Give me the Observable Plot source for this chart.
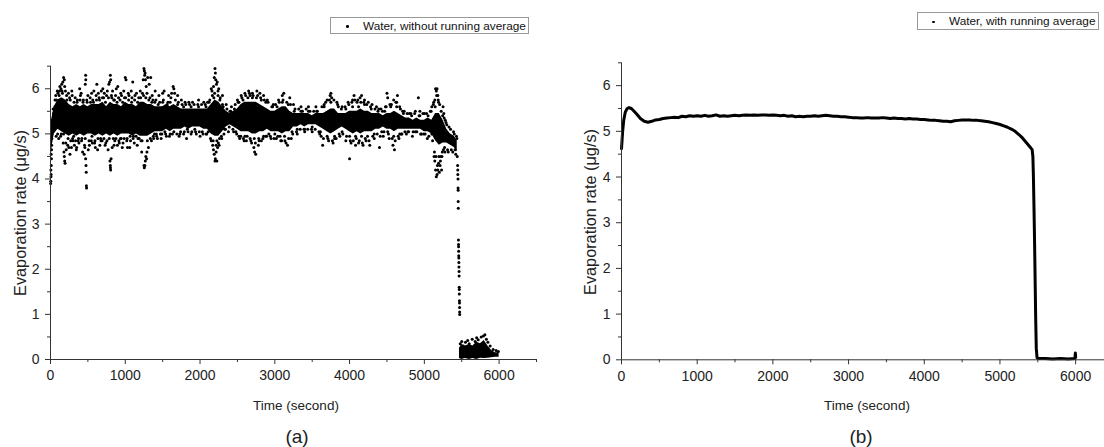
<!DOCTYPE html>
<html><head><meta charset="utf-8">
<script src="https://cdn.jsdelivr.net/npm/d3@7"></script>
<script src="https://cdn.jsdelivr.net/npm/@observablehq/plot@0.6"></script>
<style>
body{margin:0;width:1104px;height:447px;overflow:hidden;position:relative;background:#fff;font-family:"Liberation Sans",Arial,sans-serif;color:#222;}
.abs{position:absolute;}
.abs svg{max-width:none !important;}
.legend{position:absolute;border:1px solid #999;box-sizing:border-box;font-size:11.8px;color:#111;background:#fff;white-space:nowrap;}
.legend .mk{position:absolute;width:2.5px;height:2.5px;background:#000;border-radius:50%;}
.legend .tx{position:absolute;top:50%;transform:translateY(-50%);}
.ylab{position:absolute;font-size:16.3px;white-space:nowrap;transform:translate(-50%,-50%) rotate(-90deg);}
.xlab{position:absolute;font-size:13.5px;white-space:nowrap;transform:translate(-50%,-50%);}
.cap{position:absolute;font-size:19px;white-space:nowrap;transform:translate(-50%,-50%);}
</style></head><body>
<div id="pa" class="abs" style="left:0;top:0;width:550px"></div>
<div id="pb" class="abs" style="left:550px;top:0;width:570px"></div>
<div class="legend" style="left:330px;top:17px;width:199px;height:17px"><span class="mk" style="left:15px;top:7px"></span><span class="tx" style="left:32px">Water, without running average</span></div>
<div class="legend" style="left:917px;top:12px;width:182px;height:18px"><span class="mk" style="left:14px;top:7.5px"></span><span class="tx" style="left:31px">Water, with running average</span></div>
<div class="ylab" style="left:20px;top:213px">Evaporation rate (μg/s)</div>
<div class="ylab" style="left:590px;top:212px">Evaporation rate (μg/s)</div>
<div class="xlab" style="left:296px;top:405px">Time (second)</div>
<div class="xlab" style="left:867px;top:405px">Time (second)</div>
<div class="cap" style="left:297px;top:437px">(a)</div>
<div class="cap" style="left:861px;top:437px">(b)</div>
<script>
// ---- Panel (a): raw data, dense core envelope + scattered points ----
const coreTime = [0,20,50,100,150,200,250,300,350,400,450,500,550,600,650,700,750,800,850,900,950,1000,1050,1100,1150,1200,1250,1300,1350,1400,1450,1500,1550,1600,1650,1700,1750,1800,1850,1900,1950,2000,2050,2100,2150,2200,2250,2300,2350,2400,2450,2500,2550,2600,2650,2700,2750,2800,2850,2900,2950,3000,3050,3100,3150,3200,3250,3300,3350,3400,3450,3500,3550,3600,3650,3700,3750,3800,3850,3900,3950,4000,4050,4100,4150,4200,4250,4300,4350,4400,4450,4500,4550,4600,4650,4700,4750,4800,4850,4900,4950,5000,5050,5100,5150,5200,5250,5300,5350,5400,5440];
const coreLow  = [4.3,4.7,5.0,5.1,5.05,5.0,4.95,5.0,4.95,5.0,4.95,5.0,5.0,4.95,5.0,4.95,5.0,4.95,5.0,4.95,5.0,5.0,5.0,4.95,5.0,4.95,4.95,4.95,5.0,5.05,5.05,5.05,5.1,5.05,5.1,5.1,5.1,5.15,5.1,5.15,5.15,5.15,5.1,5.1,5.0,4.95,4.95,5.05,5.15,5.2,5.15,5.1,5.05,5.05,5.05,5.0,5.0,5.05,5.05,5.1,5.05,5.05,5.05,5.0,5.05,5.05,5.15,5.15,5.2,5.15,5.2,5.2,5.2,5.15,5.1,5.05,5.0,5.05,5.1,5.15,5.1,5.05,5.0,5.05,5.0,5.05,5.05,5.05,5.1,5.1,5.15,5.1,5.1,5.05,5.1,5.1,5.1,5.1,5.1,5.1,5.1,5.05,5.05,5.0,4.85,4.75,4.8,4.8,4.75,4.7,4.6];
const coreHigh = [5.2,5.35,5.6,5.75,5.8,5.75,5.65,5.6,5.65,5.6,5.65,5.6,5.65,5.65,5.65,5.7,5.6,5.7,5.65,5.65,5.6,5.7,5.65,5.65,5.6,5.7,5.7,5.65,5.65,5.6,5.6,5.6,5.65,5.6,5.65,5.6,5.55,5.55,5.55,5.55,5.55,5.55,5.55,5.55,5.65,5.75,5.7,5.6,5.5,5.45,5.5,5.55,5.65,5.7,5.7,5.7,5.7,5.65,5.6,5.55,5.5,5.5,5.55,5.6,5.6,5.5,5.45,5.45,5.45,5.45,5.45,5.4,5.45,5.45,5.45,5.5,5.55,5.55,5.45,5.45,5.45,5.5,5.5,5.5,5.55,5.5,5.5,5.45,5.45,5.45,5.4,5.45,5.45,5.5,5.45,5.4,5.35,5.35,5.3,5.35,5.3,5.3,5.35,5.3,5.45,5.45,5.3,5.1,5.0,4.95,4.85];
const tailTime = [5470,5500,5550,5600,5650,5700,5750,5800,5850,5900,5950,6000];
const tailLow  = [0.02,0.0,0.02,0.0,0.02,0.0,0.03,0.02,0.03,0.04,0.05,0.05];
const tailHigh = [0.25,0.33,0.3,0.33,0.3,0.38,0.35,0.42,0.3,0.2,0.15,0.15];
const rawTime = [2,4,6,8,5,10,12,9,14,16,18,20,22,25,30,40,60,80,100,120,140,150,165,175,185,190,200,170,180,185,190,195,210,230,260,280,300,240,290,
320,350,370,390,410,430,450,460,470,475,478,480,482,470,472,465,500,520,550,560,580,600,620,640,660,680,700,690,
720,740,760,780,790,800,805,795,800,802,804,810,830,850,870,900,920,940,960,980,1000,1010,1020,1040,1060,1080,1100,
1120,1150,1170,1200,1220,1240,1250,1255,1260,1265,1270,1280,1250,1255,1262,1268,1275,1285,1290,1300,1320,1340,1360,1380,1400,1420,1450,1480,1500,
1520,1550,1580,1600,1620,1640,1650,1660,1700,1720,1750,1780,1800,1820,1850,1880,1900,1950,1980,2000,2050,2080,2100,
2150,2160,2180,2190,2200,2205,2210,2220,2230,2240,2250,2170,2180,2190,2200,2205,2215,2225,2235,2245,2260,2300,2320,2350,2380,
2420,2450,2500,2520,2550,2580,2600,2620,2650,2670,2690,2700,2720,2730,2745,2760,2780,2800,2820,2850,2880,2900,2950,2980,
3020,3050,3080,3100,3120,3150,3170,3200,3220,3250,3300,3350,3400,3450,3500,3550,3600,
3620,3640,3660,3700,3720,3740,3750,3760,3780,3800,3830,3870,3900,3950,3980,4000,4020,4040,4060,4080,
4100,4120,4140,4160,4180,4200,4220,4250,4270,4300,4330,4360,4400,4420,4450,4480,4500,4510,4530,4560,4580,4600,4620,4640,4660,4680,4700,
4730,4760,4800,4840,4880,4920,4940,4960,5000,5040,5080,5100,
5120,5140,5150,5160,5170,5180,5190,5130,5140,5150,5160,5170,5180,5190,5200,5210,5220,5230,5240,5250,5260,5270,5280,5300,5320,5350,5380,5400,5420,5430,5440,
5445,5447,5448,5450,5451,5452,5453,5454,5456,5457,5458,5459,5460,5461,5462,5463,5464,5465,5466,5467,5468,5469,5470,5471,5472,5473,
5480,5500,5520,5550,5580,5600,5640,5680,5700,5720,5760,5790,5810,5830,5850,5880,5920,5960,5990];
const rawRate = [3.9,3.95,4.05,4.1,4.2,4.3,4.45,4.55,4.65,4.75,4.9,5.0,5.1,5.2,5.3,5.45,5.6,5.75,5.9,5.95,6.0,6.1,6.15,6.25,6.2,6.05,5.95,4.8,4.6,4.5,4.4,4.35,4.65,4.75,4.55,4.7,4.85,5.9,5.85,
4.75,4.7,4.85,6.0,5.9,4.6,4.55,4.7,4.45,4.3,4.15,3.85,3.8,6.3,6.2,6.1,5.85,4.75,5.9,4.8,5.95,4.7,6.1,5.9,4.75,5.95,6.0,4.85,
5.9,4.8,5.95,6.1,6.15,6.3,6.2,4.4,4.3,4.25,4.2,4.45,5.95,4.75,5.85,6.05,4.8,5.9,4.7,5.95,6.25,6.2,4.85,5.9,4.7,5.95,6.15,
4.8,5.9,4.9,5.95,4.6,6.2,6.45,6.4,6.3,6.35,6.2,6.05,4.3,4.25,4.3,4.4,4.5,4.45,4.6,6.25,6.1,6.25,5.85,4.9,5.95,4.95,5.85,4.9,5.9,
5.95,4.95,5.85,5.0,5.9,6.05,6.0,5.9,5.85,4.95,5.75,5.0,5.7,4.9,5.7,5.0,5.7,5.0,5.75,4.95,5.7,5.0,5.7,
6.0,5.95,6.05,6.25,6.45,6.35,6.2,6.1,6.15,5.95,6.0,4.75,4.65,4.55,4.4,4.45,4.6,4.4,4.7,4.8,4.9,5.85,5.0,5.65,5.05,
5.6,5.05,5.75,4.95,5.85,4.9,5.9,4.85,5.95,5.85,4.8,5.9,4.7,4.6,4.55,5.95,4.75,5.9,4.85,5.85,4.95,5.75,4.9,5.65,
4.9,5.75,4.85,5.85,5.9,4.8,4.75,5.8,4.9,5.65,5.0,5.6,5.05,5.6,5.05,5.6,5.0,
4.95,4.75,5.65,5.75,4.85,5.85,5.9,5.8,4.8,4.9,5.7,4.95,5.6,4.85,5.7,4.45,4.8,5.75,5.85,4.75,
5.7,4.8,5.8,5.85,4.75,5.75,4.85,5.7,4.75,5.65,4.9,5.6,4.7,5.55,4.95,5.6,5.9,5.8,4.9,5.65,4.75,4.65,5.7,5.85,4.9,5.55,5.0,
5.5,5.0,5.45,4.95,5.5,5.8,5.5,5.0,5.45,4.9,5.5,5.6,
5.65,5.75,6.0,5.95,6.0,5.85,5.7,4.5,4.4,4.2,4.05,4.1,4.2,4.35,4.15,4.3,4.5,4.2,4.6,5.6,5.45,4.7,5.3,5.2,4.6,5.1,4.6,5.0,4.55,4.95,4.5,
4.3,4.2,4.1,4.0,3.8,3.75,3.5,3.35,2.65,2.55,2.5,2.4,2.3,2.25,2.15,2.05,1.95,1.85,1.6,1.55,1.45,1.3,1.25,1.15,1.05,1.0,
0.35,0.4,0.3,0.38,0.42,0.35,0.45,0.4,0.48,0.44,0.5,0.52,0.55,0.45,0.38,0.3,0.22,0.2,0.18];
// fringe points bordering the dense band
const fringeTime = [60,75,90,110,125,145,160,205,220,245,255,270,285,310,330,345,360,380,400,420,440,455,490,505,530,545,565,590,610,630,650,670,710,730,750,770,815,825,845,860,880,895,910,935,950,970,990,1030,1050,1070,1090,1110,1130,1160,1180,1210,1230,1290,1310,1330,1350,1370,1390,1410,1430,1460,1490,1510,1540,1570,1590,1610,1630,1670,1690,1710,1740,1760,1790,1810,1840,1860,1890,1920,1940,1970,1990,2020,2040,2070,2090,2120,2140,2165,2175,2195,2215,2240,2255,2270,2285,2310,2330,2360,2390,2410,2440,2470,2490,2510,2530,2560,2590,2610,2630,2660,2680,2710,2740,2770,2790,2810,2840,2860,2890,2910,2940,2960,2990,3010,3040,3060,3090,3110,3135,3160,3185,3210,3240,3270,3290,3320,3340,3370,3390,3420,3440,3470,3490,3520,3540,3570,3590,3630,3650,3680,3710,3730,3770,3790,3820,3840,3860,3890,3910,3940,3960,3990,4010,4030,4050,4070,4090,4110,4130,4150,4170,4190,4210,4230,4260,4280,4310,4340,4370,4390,4410,4440,4460,4490,4520,4540,4570,4590,4610,4630,4650,4670,4690,4710,4740,4770,4790,4820,4850,4870,4900,4930,4950,4980,5010,5030,5060,5090,5110,5125,5135,5145,5155,5165,5175,5185,5195,5205,5215,5225,5235,5245,5255,5265,5275,5290,5310,5330,5360,5390,5410,5435];
const fringeRate = [5.75,4.95,5.95,4.9,6.05,5.0,5.9,4.8,5.75,4.7,5.8,4.85,5.95,4.95,5.8,4.65,5.75,4.8,5.85,4.9,5.75,4.75,5.7,4.65,5.8,4.85,5.75,4.8,5.85,4.65,5.8,4.9,5.8,4.75,5.85,4.65,5.85,4.7,5.75,4.85,6.0,4.75,5.8,4.9,5.85,4.8,5.8,4.7,5.85,4.85,5.8,4.95,5.85,4.75,5.8,4.85,5.9,5.9,4.7,5.8,4.85,5.75,5.0,5.75,4.9,5.7,5.0,5.75,5.0,5.7,4.95,5.8,5.0,5.75,5.0,5.7,5.05,5.65,5.05,5.65,5.05,5.65,5.05,5.65,5.05,5.65,5.05,5.65,5.0,5.65,5.0,5.7,4.9,5.85,4.85,5.9,4.75,5.85,4.75,5.8,4.95,5.6,5.1,5.55,5.15,5.5,5.1,5.65,5.0,5.7,4.9,5.8,4.85,5.85,4.95,5.9,4.85,5.85,4.8,5.85,4.85,5.8,4.9,5.75,4.95,5.7,4.95,5.6,4.9,5.65,4.95,5.7,4.85,5.75,4.85,5.7,4.9,5.65,5.0,5.55,5.05,5.55,5.1,5.5,5.1,5.55,5.1,5.5,5.1,5.5,5.1,5.5,5.05,5.6,4.9,5.7,4.9,5.75,4.85,5.75,4.9,5.65,5.0,5.55,5.0,5.6,4.95,5.65,4.85,5.7,4.85,5.75,4.9,5.75,4.85,5.7,4.8,5.7,4.9,5.65,4.85,5.6,4.95,5.55,5.0,5.55,4.95,5.5,5.05,5.6,5.0,5.65,4.9,5.75,4.85,5.7,4.95,5.6,5.0,5.5,5.05,5.45,5.05,5.45,5.05,5.45,5.05,5.4,5.0,5.45,5.0,5.45,4.95,5.5,4.85,5.7,4.6,5.6,4.5,5.85,4.3,5.75,4.5,5.65,4.4,5.5,4.5,5.4,4.65,5.35,4.6,5.25,4.65,5.15,4.65,5.05,4.65,4.9];
// points just outside the dense band edges
const edgeTime = [35,70,95,115,135,155,175,215,235,265,295,315,335,355,375,395,415,435,465,485,515,535,555,575,595,615,635,655,675,695,715,735,755,775,785,820,840,855,875,890,915,930,945,965,985,1005,1025,1045,1065,1085,1105,1125,1145,1165,1185,1205,1225,1245,1275,1295,1315,1335,1355,1375,1395,1415,1440,1470,1500,1530,1560,1600,1650,1700,1730,1780,1830,1880,1930,1980,2030,2080,2110,2130,2150,2185,2225,2265,2290,2300,2340,2400,2460,2480,2520,2545,2575,2600,2640,2670,2700,2725,2755,2785,2820,2850,2880,2920,2970,3000,3030,3070,3100,3130,3180,3230,3260,3300,3350,3400,3450,3500,3560,3610,3660,3700,3750,3800,3850,3900,3950,4000,4040,4080,4120,4160,4200,4240,4290,4330,4380,4430,4470,4510,4550,4590,4630,4670,4720,4780,4830,4880,4940,4990,5050,5100];
const edgeRate = [5.55,5.85,5.0,5.85,4.95,5.95,5.0,5.85,4.9,5.75,4.9,5.7,4.85,5.7,4.9,5.75,4.85,5.7,4.9,5.75,4.85,5.7,4.95,5.7,4.85,5.75,4.9,5.75,4.85,5.8,4.9,5.7,4.85,5.8,4.9,5.8,4.9,5.75,4.9,5.7,4.85,5.75,4.9,5.7,4.9,5.8,4.9,5.75,4.95,5.7,4.9,5.75,4.95,5.7,4.9,5.8,4.85,5.85,5.8,4.85,5.75,4.9,5.7,4.95,5.7,5.0,5.65,5.0,5.7,5.05,5.65,5.7,5.05,5.65,5.0,5.6,5.1,5.6,5.1,5.6,5.05,5.6,5.05,5.75,4.85,5.8,4.85,5.75,4.9,5.65,5.1,5.5,5.55,5.05,5.7,4.95,5.75,4.95,5.8,4.9,5.8,4.9,5.8,4.9,5.75,4.95,5.7,5.0,5.6,5.0,5.6,4.95,5.7,4.95,5.65,5.05,5.5,5.1,5.5,5.1,5.5,5.15,5.5,5.05,5.6,4.95,5.7,4.95,5.6,5.05,5.55,4.95,5.6,4.95,5.6,4.95,5.65,4.95,5.55,5.0,5.5,5.05,5.5,5.05,5.6,4.95,5.6,5.0,5.45,5.05,5.4,5.05,5.4,5.0,5.4,5.0];

// ---- Panel (b): running average ----
const avgTime = [0,15,30,50,75,100,130,160,200,250,300,350,400,450,500,550,600,650,700,750,800,850,900,950,1000,1050,1100,1150,1200,1250,1300,1350,1400,1450,1500,1550,1600,1650,1700,1750,1800,1850,1900,1950,2000,2050,2100,2150,2200,2250,2300,2350,2400,2450,2500,2550,2600,2650,2700,2750,2800,2850,2900,2950,3000,3050,3100,3150,3200,3250,3300,3350,3400,3450,3500,3550,3600,3650,3700,3750,3800,3850,3900,3950,4000,4050,4100,4150,4200,4250,4300,4350,4400,4450,4500,4550,4600,4650,4700,4750,4800,4850,4900,4950,5000,5050,5100,5150,5200,5250,5300,5350,5400,5425,5435,5442,5450,5458,5465,5472,5480,5490,5500,5600,5700,5800,5900,5990,5996,6000];
const avgRate = [4.62,5.0,5.25,5.42,5.5,5.52,5.5,5.45,5.38,5.28,5.22,5.2,5.22,5.25,5.26,5.28,5.29,5.3,5.31,5.3,5.33,5.32,5.34,5.33,5.34,5.33,5.35,5.33,5.34,5.36,5.33,5.34,5.33,5.34,5.35,5.34,5.35,5.36,5.35,5.36,5.35,5.36,5.36,5.35,5.36,5.35,5.34,5.35,5.33,5.34,5.32,5.33,5.32,5.33,5.33,5.34,5.33,5.34,5.35,5.34,5.33,5.33,5.32,5.32,5.31,5.3,5.3,5.29,5.29,5.3,5.29,5.29,5.29,5.3,5.29,5.28,5.29,5.28,5.28,5.27,5.28,5.27,5.27,5.26,5.26,5.25,5.24,5.24,5.23,5.22,5.22,5.21,5.23,5.24,5.25,5.25,5.25,5.24,5.24,5.23,5.22,5.21,5.19,5.17,5.15,5.12,5.09,5.05,5.0,4.93,4.85,4.75,4.65,4.6,4.45,4.0,3.3,2.5,1.7,0.9,0.25,0.05,0.03,0.03,0.02,0.03,0.02,0.03,0.15,0.05];

const xMajor = [0,1000,2000,3000,4000,5000,6000];
const xMinor = [500,1500,2500,3500,4500,5500,6500];
const yMajor = [0,1,2,3,4,5,6];
const yMinor = [0.5,1.5,2.5,3.5,4.5,5.5,6.5];

const coreRows = coreTime.map((t,i)=>({t, lo:coreLow[i], hi:coreHigh[i]}));
const tailRows = tailTime.map((t,i)=>({t, lo:tailLow[i], hi:tailHigh[i]}));
const rawRows = rawTime.map((t,i)=>({t, v:rawRate[i]}))
  .concat(fringeTime.map((t,i)=>({t, v:fringeRate[i]})))
  .concat(edgeTime.map((t,i)=>({t, v:edgeRate[i]})));
const avgRows = avgTime.map((t,i)=>({t, v:avgRate[i]}));

function axes(){
  const ink = "#333";
  return [
    Plot.axisX({ticks:xMajor, tickSize:5, tickPadding:6, tickFormat:d3.format("d"), label:null, stroke:ink, color:"#222"}),
    Plot.axisX({ticks:xMinor, tickSize:3, tickFormat:()=>"", label:null, stroke:ink}),
    Plot.axisY({ticks:yMajor, tickSize:5, tickPadding:6, tickFormat:d3.format("d"), label:null, stroke:ink, color:"#222"}),
    Plot.axisY({ticks:yMinor, tickSize:3, tickFormat:()=>"", label:null, stroke:ink}),
    Plot.ruleY([0], {stroke:ink}),
    Plot.ruleX([0], {stroke:ink})
  ];
}
const common = {
  height:447,
  x:{domain:[0,6500]},
  y:{domain:[0,6.5]},
  style:{fontFamily:"'Liberation Sans', Arial, sans-serif", fontSize:"14px", background:"transparent", overflow:"visible", maxWidth:"none"}
};

const chartA = Plot.plot({...common, width:550, marginLeft:50, marginRight:14, marginTop:65.7, marginBottom:88,
  marks:[
    Plot.areaY(coreRows, {x:"t", y1:"lo", y2:"hi", fill:"#000"}),
    Plot.areaY(tailRows, {x:"t", y1:"lo", y2:"hi", fill:"#000"}),
    Plot.dot(rawRows, {x:"t", y:"v", r:1.5, fill:"#000", stroke:null}),
    ...axes()
  ]});
document.getElementById("pa").appendChild(chartA);

const chartB = Plot.plot({...common, width:570, marginLeft:71, marginRight:7, marginTop:62.3, marginBottom:87.7,
  marks:[
    Plot.line(avgRows, {x:"t", y:"v", stroke:"#000", strokeWidth:3, strokeLinejoin:"round"}),
    ...axes()
  ]});
document.getElementById("pb").appendChild(chartB);
</script>
</body></html>
